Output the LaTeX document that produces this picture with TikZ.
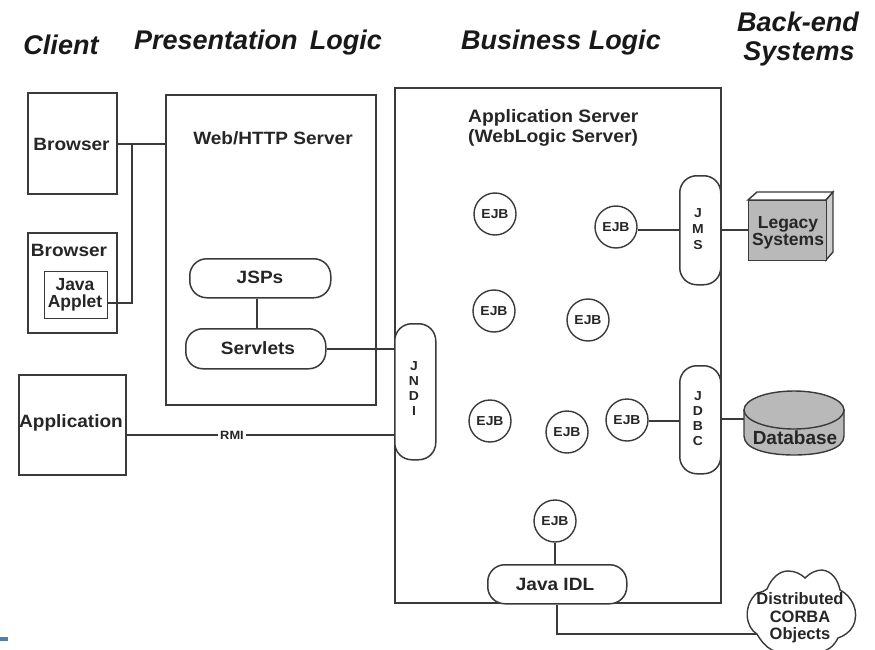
\documentclass[tikz,border=0pt]{standalone}
\usepackage{fontspec}
\setmainfont[FakeStretch=1.07]{Liberation Sans}
\newfontfamily\plainfont{Liberation Sans}
\definecolor{ln}{HTML}{3A3A3A}
\definecolor{fillgray}{HTML}{B9B9B9}
\definecolor{barblue}{HTML}{4F7FB0}
\newcommand{\fs}[1]{\fontsize{#1}{#1}\selectfont}
\tikzset{
  box/.style={draw=ln,line width=1.7pt,fill=white,inner sep=0pt,anchor=north west},
  pill/.style={box,line width=1.5pt,rounded corners=17pt},
  ejb/.style={circle,draw=ln,line width=1.4pt,fill=white,minimum size=42pt,inner sep=0pt,font=\bfseries\fs{13},text=black!85},
  wire/.style={draw=ln,line width=1.6pt},
  label/.style={font=\bfseries\fs{17.8},text=black!85,align=center,inner sep=0pt},
  small/.style={font=\bfseries\plainfont\fs{17.5},text=black!85,align=center,inner sep=0pt},
  head/.style={font=\bfseries\itshape\plainfont\fs{27},text=black!90,align=center,inner sep=0pt},
  vert/.style={font=\bfseries\fs{13},text=black!85,align=center,inner sep=0pt}
}
\begin{document}
\begin{tikzpicture}[x=1pt,y=-1pt]
\useasboundingbox (0,0) rectangle (875,650);
\fill[white] (0,0) rectangle (875,650);
\fill[barblue] (0,637) rectangle (8,641);

% headings
\node[head] (hClient) at (61,45) {Client};
\node[head] (hPres) at (258,43) {Presentation\hspace{0.45em}Logic};
\node[head] (hBus) at (561,43) {Business Logic};
\node[head] (hBackA) at (798,22) {Back-end};
\node[head] (hBackB) at (799,54) {Systems};

% containers
\node[box,minimum width=210pt,minimum height=310pt] (web) at (165,94) {};
\node[label] (webt) at (273,138) {Web/HTTP Server};
\node[box,minimum width=326pt,minimum height=515pt] (app) at (394,87) {};
\node[label,font=\bfseries\fs{18},align=left,anchor=west] (appt) at (468,128) {Application Server\\[2pt](WebLogic Server)};

% clients
\node[box,minimum width=89pt,minimum height=101pt] (b1) at (27,92) {};
\node[label] (b1t) at (71.5,144) {Browser};
\node[box,minimum width=89pt,minimum height=100pt] (b2) at (27,232) {};
\node[label] (b2t) at (69,250) {Browser};
\node[box,line width=1.4pt,minimum width=63pt,minimum height=47pt] (applet) at (44,271) {};
\node[small] (applett) at (75,295) {Java\\[-1pt]Applet};
\node[box,minimum width=107pt,minimum height=100pt] (appl) at (18,374) {};
\node[label] (applt) at (71,423) {Application};

% pills
\node[pill,minimum width=141pt,minimum height=39pt] (jsps) at (189,258) {};
\node[label] (jspst) at (260,277) {JSPs};
\node[pill,minimum width=140pt,minimum height=40pt] (serv) at (185,328) {};
\node[label] (servt) at (258,348) {Servlets};
\node[pill,minimum width=41pt,minimum height=136pt] (jndi) at (394,323) {};
\node[vert] (jndit) at (414,389) {J\\[2pt]N\\[2pt]D\\[2pt]I};
\node[pill,minimum width=41pt,minimum height=109pt] (jms) at (679,175) {};
\node[vert] (jmst) at (698,229) {J\\[3pt]M\\[3pt]S};
\node[pill,minimum width=41pt,minimum height=108pt] (jdbc) at (679,365) {};
\node[vert] (jdbct) at (698,419) {J\\[2pt]D\\[2pt]B\\[2pt]C};
\node[pill,minimum width=139pt,minimum height=39pt] (idl) at (487,564) {};
\node[label] (idlt) at (555,584) {Java IDL};

% EJBs
\node[ejb] (e1) at (495,214) {EJB};
\node[ejb] (e2) at (616,227) {EJB};
\node[ejb] (e3) at (494,311) {EJB};
\node[ejb] (e4) at (588,320) {EJB};
\node[ejb] (e5) at (490,421) {EJB};
\node[ejb] (e6) at (567,432) {EJB};
\node[ejb] (e7) at (627,420) {EJB};
\node[ejb] (e8) at (555,521) {EJB};

% legacy
\filldraw[draw=ln,line width=1.4pt,fill=white] (748,200) -- (757,192) -- (833,192) -- (826,200) -- cycle;
\filldraw[draw=ln,line width=1.4pt,fill=fillgray!70] (826,200) -- (833,192) -- (833,252) -- (826,260) -- cycle;
\node[box,line width=1.4pt,fill=fillgray,minimum width=78pt,minimum height=60pt] (legacy) at (748,200) {};
\node[small] (legacyt) at (788,233) {Legacy\\[-1pt]Systems};

% database
\coordinate (dbw) at (744,419);
\filldraw[draw=ln,line width=1.4pt,fill=fillgray]
  (744,410) -- (744,436) .. controls (744,449) and (767,455) .. (794,455)
  .. controls (821,455) and (844,449) .. (844,436) -- (844,410) -- cycle;
\filldraw[draw=ln,line width=1.4pt,fill=fillgray] (794,410) ellipse [x radius=50,y radius=19];
\node[label,font=\bfseries\plainfont\fs{19}] (dbt) at (795,438) {Database};

% cloud
\coordinate (cloudw) at (757,634);
\filldraw[draw=ln,line width=1.4pt,fill=white]
  (757,634) .. controls (746,628) and (742,606) .. (757,593)
  .. controls (762,592) and (765,591) .. (767,589)
  .. controls (772,577) and (780,571) .. (788,571)
  .. controls (795,571) and (801,574) .. (805,578)
  .. controls (810,573) and (816,570) .. (822,570)
  .. controls (832,571) and (838,580) .. (840,590)
  .. controls (852,596) and (860,612) .. (853,626)
  .. controls (850,632) and (844,636) .. (838,638)
  .. controls (834,646) and (828,651) .. (820,652)
  .. controls (805,654) and (780,654) .. (772,650)
  .. controls (766,647) and (761,641) .. (757,634) -- cycle;
\node[small,font=\bfseries\plainfont\fs{16.5}] (cloudt) at (800,618) {Distributed\\[1pt]CORBA\\[1pt]Objects};

% connectors
\draw[wire] (b1.east |- b1t) -- (web.west |- b1t);
\draw[wire,line width=2.6pt] (applet.east |- 0,303) -| (132,143);
\draw[wire] (jsps.south -| 257,0) -- (serv.north -| 257,0);
\draw[wire] (serv.east) -- (jndi.west |- serv.east);
\node[font=\bfseries\fs{12},text=black!85,fill=white,inner sep=2pt] (rmi) at (232,435) {RMI};
\draw[wire] (appl.east |- rmi) -- (rmi);
\draw[wire] (rmi) -- (jndi.west |- rmi);
\draw[wire] (e2.east |- 0,230) -- (jms.west |- 0,230);
\draw[wire] (jms.east |- 0,230) -- (legacy.west |- 0,230);
\draw[wire] (e7.east |- 0,421) -- (jdbc.west |- 0,421);
\draw[wire] (jdbc.east |- 0,419) -- (dbw);
\draw[wire] (e8) -- (e8 |- idl.north);
\draw[wire] (idl.south -| 557,0) |- (cloudw);
\end{tikzpicture}
\end{document}
